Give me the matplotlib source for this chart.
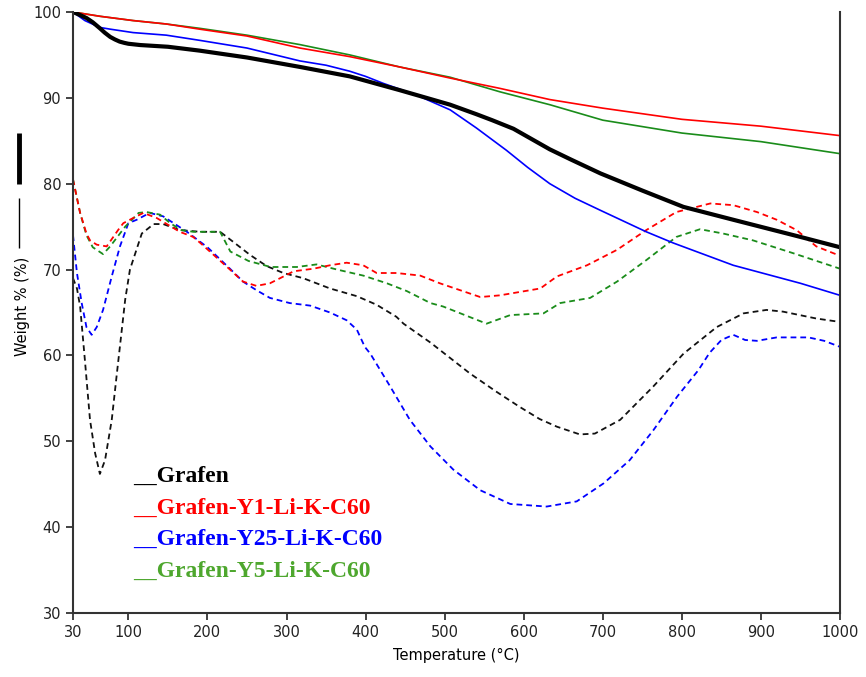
import matplotlib
matplotlib.use("Agg")
import matplotlib.pyplot as plt
from matplotlib.lines import Line2D

# ---- TGA (solid) curves: weight % vs temperature ----
t_grafen = [30, 35, 40, 47, 55, 64, 70, 77, 83, 89, 95, 100, 115, 150, 190, 250, 317, 380, 443, 507, 540, 560, 587, 610, 633, 660, 697, 750, 802, 865, 950, 1000]
w_grafen = [100, 99.8, 99.6, 99.3, 98.8, 98.1, 97.6, 97.1, 96.8, 96.55, 96.4, 96.3, 96.15, 95.95, 95.5, 94.7, 93.6, 92.5, 90.9, 89.2, 88.1, 87.4, 86.4, 85.2, 84.0, 82.8, 81.2, 79.2, 77.3, 75.8, 73.8, 72.6]

t_y25 = [30, 45, 64, 77, 106, 148, 190, 250, 317, 350, 380, 400, 422, 465, 507, 540, 578, 605, 633, 665, 697, 755, 789, 865, 950, 1000]
w_y25 = [100, 99.0, 98.2, 98.0, 97.6, 97.3, 96.7, 95.8, 94.3, 93.8, 93.1, 92.5, 91.7, 90.3, 88.6, 86.5, 83.9, 81.9, 80.0, 78.3, 76.9, 74.4, 73.1, 70.5, 68.4, 67.0]

t_y1 = [30, 64, 106, 148, 190, 250, 317, 380, 443, 507, 570, 633, 700, 800, 900, 1000]
w_y1 = [100, 99.5, 99.0, 98.6, 98.0, 97.2, 95.8, 94.8, 93.6, 92.3, 91.1, 89.8, 88.8, 87.5, 86.7, 85.6]

t_y5 = [30, 64, 106, 148, 190, 250, 317, 380, 443, 507, 570, 633, 700, 800, 900, 1000]
w_y5 = [100, 99.5, 99.0, 98.6, 98.1, 97.3, 96.2, 95.0, 93.6, 92.4, 90.7, 89.2, 87.4, 85.9, 84.9, 83.5]

# ---- derivative-type (dashed) curves ----
td_grafen = [30, 35, 39, 45, 51.5, 58, 64, 70.5, 79, 85, 96, 102, 117, 132, 144, 165, 191, 216, 233, 254, 275, 296, 321, 355, 389, 414, 439, 448, 482, 532, 565, 595, 620, 642, 671, 690, 722, 764, 802, 844, 878, 907, 928, 970, 1000]
d_grafen = [69, 67.8, 65.7, 59.5, 52.5, 48.6, 46.2, 47.8, 52.5, 57.5, 66.5, 70.0, 74.2, 75.3, 75.3, 74.6, 74.4, 74.4, 73.2, 71.7, 70.4, 69.6, 69.0, 67.8, 66.9, 65.9, 64.5, 63.7, 61.5, 57.9, 55.8, 54.0, 52.6, 51.7, 50.8, 50.9, 52.5, 56.4, 60.2, 63.3, 64.9, 65.3, 65.1, 64.3, 63.9]

td_y25 = [30, 35, 41, 47, 53.6, 60, 68, 79, 89.4, 100, 110.5, 127, 144, 174, 200, 228.5, 245, 262, 279, 304, 330, 355, 376, 389, 399, 406, 431, 456, 482, 511, 545, 583, 629, 667, 701, 734, 764, 794, 821, 835, 850, 865, 880, 895, 920, 960, 980, 1000]
d_y25 = [74, 69.6, 66.1, 63.3, 62.4, 63.3, 65.3, 69.2, 72.7, 75.4, 75.8, 76.6, 76.2, 74.4, 72.6, 70.1, 68.6, 67.6, 66.7, 66.1, 65.8, 65.0, 64.1, 63.0, 61.0, 60.2, 56.4, 52.5, 49.4, 46.7, 44.3, 42.7, 42.4, 43.0, 45.1, 47.8, 51.3, 55.2, 58.3, 60.3, 61.8, 62.4, 61.8, 61.7, 62.1, 62.1, 61.7, 61.0]

td_y1 = [30, 39, 47, 51.5, 60, 72.6, 87, 93.6, 106, 119, 136, 165, 182, 191, 228.5, 245, 262, 279, 292, 309, 334, 355, 376, 397, 414, 439, 469, 494, 545, 570, 621, 642, 680, 718, 755, 793, 836, 865, 895, 920, 945, 970, 1000]
d_y1 = [80.5, 76.6, 74.2, 73.4, 72.9, 72.7, 74.6, 75.4, 76.0, 76.6, 76.0, 74.4, 73.8, 73.1, 70.0, 68.6, 68.1, 68.4, 69.0, 69.8, 70.1, 70.5, 70.8, 70.5, 69.6, 69.6, 69.3, 68.4, 66.8, 67.0, 67.8, 69.2, 70.5, 72.3, 74.6, 76.7, 77.7, 77.5, 76.7, 75.8, 74.6, 72.7, 71.6]

td_y5 = [30, 39, 47, 55, 68, 77, 96, 113, 123, 140, 153, 167, 182, 216, 229, 252, 280, 313, 338, 364, 397, 427, 452, 482, 498, 553, 583, 625, 646, 684, 718, 755, 793, 823, 852, 890, 941, 1000]
d_y5 = [80.5, 76.6, 74.0, 72.6, 71.8, 72.7, 75.0, 76.6, 76.7, 76.4, 75.4, 74.6, 74.4, 74.4, 72.1, 71.0, 70.3, 70.3, 70.6, 70.0, 69.3, 68.4, 67.5, 66.1, 65.7, 63.7, 64.7, 64.9, 66.1, 66.7, 68.6, 71.1, 73.8, 74.7, 74.2, 73.4, 71.9, 70.1]

series_names = ["Grafen", "Grafen-Y1-Li-K-C60", "Grafen-Y25-Li-K-C60", "Grafen-Y5-Li-K-C60"]
name_colors = ["#000000", "#ff0000", "#0000ff", "#4ea72e"]

x_ticks = [30, 100, 200, 300, 400, 500, 600, 700, 800, 900, 1000]
y_ticks = [30, 40, 50, 60, 70, 80, 90, 100]

plt.rcParams["font.family"] = ["DejaVu Sans"]

fig = plt.figure(figsize=(8.66, 6.77), dpi=100)
ax = fig.add_axes([0.0843, 0.0945, 0.8857, 0.8878])

dash = (3.2, 2.2)
ax.plot(td_grafen, d_grafen, color="#111111", lw=1.3, dashes=dash)
ax.plot(td_y25, d_y25, color="#0000ff", lw=1.3, dashes=dash)
ax.plot(td_y5, d_y5, color="#1a8c1a", lw=1.3, dashes=dash)
ax.plot(td_y1, d_y1, color="#ff0000", lw=1.3, dashes=dash)

ax.plot(t_y25, w_y25, color="#0000ff", lw=1.2)
ax.plot(t_y5, w_y5, color="#1a8c1a", lw=1.2)
ax.plot(t_y1, w_y1, color="#ff0000", lw=1.2)
ax.plot(t_grafen, w_grafen, color="#000000", lw=3.0)

ax.set_xlim(30, 1000)
ax.set_ylim(30, 100)
ax.set_xticks(x_ticks)
ax.set_yticks(y_ticks)
ax.tick_params(direction="out", length=5, width=1.2, labelsize=10.5, colors="#222222")
for side in ("left", "bottom", "right"):
    ax.spines[side].set_linewidth(1.5)
    ax.spines[side].set_color("#333333")
ax.spines["top"].set_visible(False)

ax.set_xlabel("Temperature (°C)", fontsize=10.5, labelpad=6)

# rotated y label with line-style keys
fig.text(0.026, 0.547, "Weight % (%)", rotation=90, fontsize=10.5, ha="center", va="center")
fig.add_artist(Line2D([0.0225, 0.0225], [1 - 133 / 677, 1 - 184 / 677], transform=fig.transFigure,
                      color="black", lw=3.5, solid_capstyle="butt"))
fig.add_artist(Line2D([0.0225, 0.0225], [1 - 198 / 677, 1 - 248 / 677], transform=fig.transFigure,
                      color="black", lw=1.0, solid_capstyle="butt"))

# colored legend text block
row_y = [476, 508, 539, 571]
for name, col, py in zip(series_names, name_colors, row_y):
    fig.text(133 / 866, 1 - py / 677, "__" + name, color=col, fontsize=17,
             fontweight="bold", family=["Liberation Serif", "DejaVu Serif"],
             ha="left", va="center")

fig.savefig("out.png", dpi=100)
